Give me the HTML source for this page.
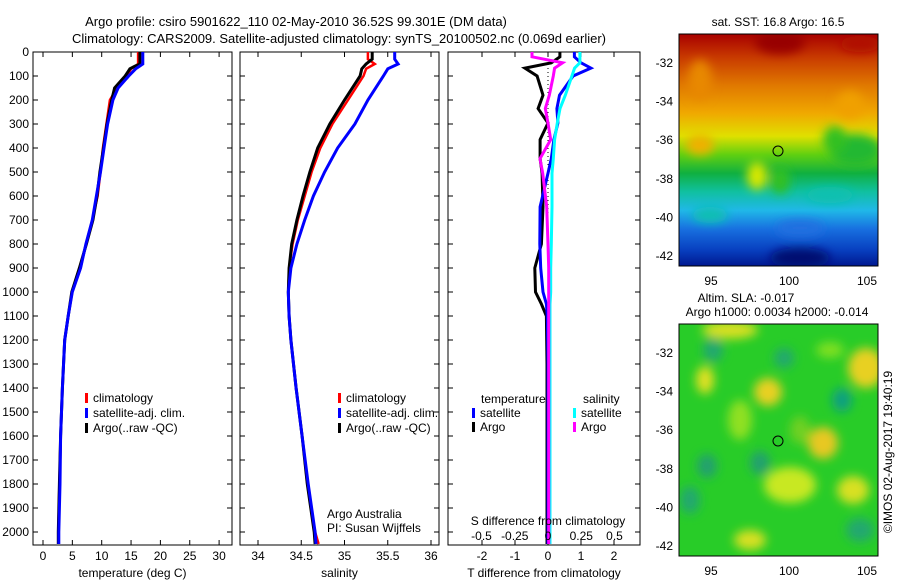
<!DOCTYPE html>
<html><head><meta charset="utf-8"><style>
body{margin:0;background:#fff;}
svg text{font-family:"Liberation Sans",sans-serif;fill:#000;}
</style></head><body>
<svg id="fig" width="900" height="580" xmlns="http://www.w3.org/2000/svg">
<defs>
<filter id="blur" x="-50%" y="-50%" width="200%" height="200%"><feGaussianBlur stdDeviation="5"/></filter>
<linearGradient id="sstGrad" x1="0" y1="0" x2="0" y2="1">
<stop offset="0" stop-color="#a80000"/><stop offset="0.1" stop-color="#c83a00"/>
<stop offset="0.22" stop-color="#e07800"/><stop offset="0.34" stop-color="#f0a800"/>
<stop offset="0.44" stop-color="#e0e000"/><stop offset="0.52" stop-color="#60d010"/>
<stop offset="0.6" stop-color="#10b040"/><stop offset="0.68" stop-color="#10c0a0"/>
<stop offset="0.76" stop-color="#20b8e8"/><stop offset="0.84" stop-color="#1870e0"/>
<stop offset="0.93" stop-color="#0840c0"/><stop offset="1" stop-color="#001890"/>
</linearGradient>
<clipPath id="clipA"><rect x="679" y="34" width="199" height="232"/></clipPath>
<clipPath id="clipB"><rect x="679" y="324" width="199" height="232"/></clipPath>
</defs>
<text x="296" y="26" font-size="13" text-anchor="middle">Argo profile: csiro 5901622_110 02-May-2010 36.52S 99.301E (DM data)</text>
<text x="339" y="43" font-size="13" text-anchor="middle">Climatology: CARS2009. Satellite-adjusted climatology: synTS_20100502.nc (0.069d earlier)</text>
<g id="plots"></g>

<g>
<g clip-path="url(#clipA)">
<rect x="679" y="34" width="199" height="232" fill="url(#sstGrad)"/>
<g filter="url(#blur)">
<ellipse cx="780" cy="42" rx="25" ry="12" fill="#980000"/>
<ellipse cx="860" cy="44" rx="20" ry="8" fill="#b01000"/>
<ellipse cx="700" cy="80" rx="12" ry="20" fill="#e88800"/>
<ellipse cx="850" cy="105" rx="14" ry="14" fill="#f0a000"/>
<ellipse cx="700" cy="145" rx="14" ry="10" fill="#f0b000"/>
<ellipse cx="855" cy="150" rx="26" ry="16" fill="#20b830"/>
<ellipse cx="835" cy="140" rx="12" ry="14" fill="#30c020"/>
<ellipse cx="757" cy="176" rx="10" ry="14" fill="#d8e800"/>
<ellipse cx="780" cy="180" rx="10" ry="14" fill="#30c020"/>
<ellipse cx="830" cy="195" rx="24" ry="8" fill="#10c0b0"/>
<ellipse cx="710" cy="215" rx="18" ry="8" fill="#10c0b0"/>
<ellipse cx="800" cy="228" rx="24" ry="8" fill="#2070e0"/>
<ellipse cx="800" cy="258" rx="30" ry="10" fill="#001070"/>
</g>
</g>
<rect x="679" y="34" width="199" height="232" fill="none" stroke="#000"/>
<circle cx="778" cy="151" r="5" fill="none" stroke="#000"/>
<text x="778" y="26" font-size="12" text-anchor="middle">sat. SST: 16.8 Argo: 16.5</text>
</g>
<g>
<g clip-path="url(#clipB)">
<rect x="679" y="324" width="199" height="232" fill="#28cc28"/>
<g filter="url(#blur)">
<ellipse cx="705" cy="380" rx="9" ry="14" fill="#e0e020"/>
<ellipse cx="768" cy="392" rx="14" ry="14" fill="#e8d020"/>
<ellipse cx="823" cy="443" rx="15" ry="16" fill="#e8c820"/>
<ellipse cx="866" cy="368" rx="18" ry="20" fill="#e8d020"/>
<ellipse cx="853" cy="490" rx="16" ry="14" fill="#d8e020"/>
<ellipse cx="790" cy="485" rx="26" ry="18" fill="#c8e820"/>
<ellipse cx="750" cy="540" rx="16" ry="10" fill="#d8e020"/>
<ellipse cx="740" cy="420" rx="12" ry="20" fill="#90e020"/>
<ellipse cx="730" cy="330" rx="28" ry="9" fill="#d8e020"/>
<ellipse cx="830" cy="350" rx="14" ry="8" fill="#80e020"/>
<ellipse cx="800" cy="430" rx="10" ry="14" fill="#70d020"/>
<ellipse cx="842" cy="400" rx="10" ry="12" fill="#10a080"/>
<ellipse cx="707" cy="466" rx="10" ry="12" fill="#20a070"/>
<ellipse cx="760" cy="463" rx="10" ry="12" fill="#20a070"/>
<ellipse cx="784" cy="358" rx="10" ry="10" fill="#20a870"/>
<ellipse cx="713" cy="350" rx="10" ry="12" fill="#20a870"/>
<ellipse cx="860" cy="530" rx="14" ry="12" fill="#20a870"/>
<ellipse cx="690" cy="500" rx="10" ry="14" fill="#20a870"/>
</g>
</g>
<rect x="679" y="324" width="199" height="232" fill="none" stroke="#000"/>
<circle cx="778" cy="441" r="5" fill="none" stroke="#000"/>
<text x="746" y="302" font-size="12" text-anchor="middle">Altim. SLA: -0.017</text>
<text x="777" y="316" font-size="12" text-anchor="middle">Argo h1000: 0.0034 h2000: -0.014</text>
</g>
<text font-size="12" text-anchor="middle" transform="translate(892,452) rotate(-90)">©IMOS 02-Aug-2017 19:40:19</text>
</svg>
<script>
// ---- data ----
const depthT = [0,50,60,70,100,150,200,300,400,500,600,700,800,900,1000,1100,1200,1400,1600,1800,2000,2050];
const tempClim = [16.2,16.2,15.6,15.0,14.3,12.6,11.4,10.8,10.2,9.8,9.3,8.4,7.3,6.4,5.0,4.3,3.7,3.3,3.0,2.8,2.6,2.6];
const tempSat  = [17.0,17.0,16.4,15.8,14.6,12.8,11.9,11.0,10.4,9.8,9.1,8.4,7.3,6.4,5.0,4.3,3.7,3.3,3.0,2.9,2.7,2.7];
const tempArgo = [16.5,16.5,15.6,14.8,14.0,12.2,11.7,10.9,10.3,9.7,9.2,8.5,7.4,6.2,4.9,4.3,3.7,3.3,3.0,2.8,2.6,2.6];
const depthS = [0,30,50,70,100,200,300,400,500,600,700,800,900,1000,1100,1200,1400,1600,1800,2000,2050];
const salClim = [35.27,35.27,35.35,35.25,35.22,35.04,34.86,34.72,34.62,34.54,34.46,34.40,34.36,34.35,34.36,34.38,34.44,34.51,34.57,34.66,34.70];
const salSat  = [35.58,35.58,35.62,35.50,35.45,35.27,35.12,34.92,34.77,34.64,34.54,34.45,34.38,34.35,34.36,34.38,34.44,34.51,34.58,34.66,34.67];
const salArgo = [35.32,35.32,35.25,35.20,35.18,35.00,34.83,34.69,34.60,34.52,34.45,34.39,34.36,34.35,34.36,34.38,34.44,34.51,34.57,34.65,34.66];
const depthD = [0,20,45,67,100,180,236,296,365,444,505,645,800,900,1000,1050,1100,1300,1600,2000,2050];
const dTSat  = [0.8,0.8,1.0,1.3,0.76,0.35,0.27,0.3,0.18,0.1,0.0,-0.24,-0.25,-0.22,-0.15,-0.05,-0.02,0,0,0,0];
const dTArgo = [0.36,0.36,0.1,-0.7,-0.33,-0.15,-0.3,0,-0.24,-0.24,-0.18,-0.15,-0.2,-0.4,-0.38,-0.2,-0.05,-0.03,-0.03,-0.03,-0.03];
const dSSat  = [0.24,0.24,0.24,0.2,0.18,0.13,0.09,0.07,0.05,0.04,0.03,0.03,0.025,0.02,0.02,0.015,0.015,0.015,0.015,0.015,0.015];
const dSArgo = [-0.12,-0.12,0.11,0.05,0.04,0.01,-0.02,0.0,0.02,-0.06,-0.04,-0.01,0.0,0.005,0.005,0.005,0.005,0.005,0.005,0.005,0.005];
const depthTicks = [0,100,200,300,400,500,600,700,800,900,1000,1100,1200,1300,1400,1500,1600,1700,1800,1900,2000];
const tempTicks = [0,5,10,15,20,25,30];
const salTicks = [34,34.5,35,35.5,36];
const dTTicks = [-2,-1,0,1,2];
const dSTicks = [-0.5,-0.25,0,0.25,0.5];
const dSTickLabels = ["-0.5","-0.25","0","0.25","0.5"];

// ---- axes ----
const top0 = 52, bot0 = 545;
const yD = d => top0 + d*0.24;
const xTemp = t => 43 + t*5.87;
const xSal = s => 258 + (s-34)*86.5;
const xDT = v => 548 + v*33;
const xDS = v => 548 + v*133;
const NS = "http://www.w3.org/2000/svg";
const G = document.getElementById('plots');
function mk(tag, attrs, parent){const e=document.createElementNS(NS,tag);for(const k in attrs)e.setAttribute(k,attrs[k]);(parent||G).appendChild(e);return e;}
function txt(s, attrs, parent){const e=mk('text',attrs,parent);e.textContent=s;return e;}

const panels = [
 {name:'temperature-panel', x0:33, x1:232, xf:xTemp, ticks:tempTicks, xlabel:'temperature (deg C)'},
 {name:'salinity-panel', x0:240, x1:439, xf:xSal, ticks:salTicks, xlabel:'salinity'},
 {name:'difference-panel', x0:448, x1:640, xf:xDT, ticks:dTTicks, xlabel:'T difference from climatology'}
];
panels.forEach((p,pi)=>{
  const g = mk('g',{});
  
  
  const fr = mk('rect',{x:p.x0,y:top0,width:p.x1-p.x0,height:bot0-top0,fill:'none',stroke:'#000'},g);
  
  
  depthTicks.forEach(d=>{
    mk('line',{x1:p.x0,x2:p.x0+5,y1:yD(d),y2:yD(d),stroke:'#000'},g);
    mk('line',{x1:p.x1,x2:p.x1-5,y1:yD(d),y2:yD(d),stroke:'#000'},g);
    if(pi===0){
      const t = txt(String(d),{x:29,y:yD(d)+4,'font-size':12,'text-anchor':'end'},g);
      
      
    }
  });
  p.ticks.forEach(v=>{
    const x = p.xf(v);
    mk('line',{x1:x,x2:x,y1:bot0,y2:bot0-5,stroke:'#000'},g);
    mk('line',{x1:x,x2:x,y1:top0,y2:top0+5,stroke:'#000'},g);
    const t = txt(String(v),{x:x,y:bot0+15,'font-size':12,'text-anchor':'middle'},g);
    
    
  });
  const xl = txt(p.xlabel,{x:(p.x0+p.x1)/2,y:577,'font-size':12,'text-anchor':'middle'},g);
  
  
});

function line(depths, vals, xf, color, name, w){
  const pts = depths.map((d,i)=>xf(vals[i]).toFixed(1)+','+yD(d).toFixed(1)).join(' ');
  const e = mk('polyline',{points:pts,fill:'none',stroke:color,'stroke-width':w||3,'stroke-linejoin':'miter'});
  
  
}
line(depthT,tempClim,xTemp,'#ff0000','temp-climatology-line',2.5);
line(depthT,tempArgo,xTemp,'#000000','temp-argo-line',3);
line(depthT,tempSat,xTemp,'#0000ff','temp-satellite-line',3);
line(depthS,salClim,xSal,'#ff0000','sal-climatology-line',2.5);
line(depthS,salArgo,xSal,'#000000','sal-argo-line',3);
line(depthS,salSat,xSal,'#0000ff','sal-satellite-line',3);
const zl = mk('line',{x1:xDT(0),x2:xDT(0),y1:top0,y2:bot0,stroke:'#000','stroke-dasharray':'1,3'});


line(depthD,dTArgo,xDT,'#000000','dT-argo-line',3);
line(depthD,dTSat,xDT,'#0000ff','dT-satellite-line',3);
line(depthD,dSSat,xDS,'#00ffff','dS-satellite-line',3);
line(depthD,dSArgo,xDS,'#ff00ff','dS-argo-line',3);

dSTicks.forEach((v,i)=>{
  const t = txt(dSTickLabels[i],{x:xDS(v),y:540,'font-size':12,'text-anchor':'middle'});
  
  
});
const st = txt('S difference from climatology',{x:548,y:525,'font-size':12,'text-anchor':'middle'});



function legEntry(x,y,color,label,name){
  const g = mk('g',{});
  
  
  mk('rect',{x:x,y:y-9,width:3,height:10,fill:color},g);
  txt(label,{x:x+8,y:y,'font-size':12},g);
}
[[85,'#ff0000','climatology'],[85,'#0000ff','satellite-adj. clim.'],[85,'#000000','Argo(..raw -QC)']].forEach((e,i)=>{
  legEntry(e[0],402+i*15,e[1],e[2],'legend-entry');
  legEntry(338,402+i*15,e[1],e[2],'legend-entry');
});
txt('temperature',{x:481,y:403,'font-size':12});
txt('salinity',{x:583,y:403,'font-size':12});
legEntry(472,417,'#0000ff','satellite','legend-entry');
legEntry(472,431,'#000000','Argo','legend-entry');
legEntry(573,417,'#00ffff','satellite','legend-entry');
legEntry(573,431,'#ff00ff','Argo','legend-entry');
const a1 = txt('Argo Australia',{x:327,y:518,'font-size':12});


const a2 = txt('PI: Susan Wijffels',{x:327,y:532,'font-size':12});



const lonTicks=[95,100,105], latTicks=[-32,-34,-36,-38,-40,-42];
const xLon = l => 711 + (l-95)*15.6;
[34,324].forEach((mt,mi)=>{
  const yLat = la => mt + 29 + (-32-la)*19.3;
  lonTicks.forEach(l=>{
    mk('line',{x1:xLon(l),x2:xLon(l),y1:mt+232,y2:mt+228,stroke:'#000'});
    mk('line',{x1:xLon(l),x2:xLon(l),y1:mt,y2:mt+4,stroke:'#000'});
    const t = txt(String(l),{x:xLon(l),y:mt+251,'font-size':12,'text-anchor':'middle'});
    
    
  });
  latTicks.forEach(la=>{
    mk('line',{x1:679,x2:683,y1:yLat(la),y2:yLat(la),stroke:'#000'});
    mk('line',{x1:878,x2:874,y1:yLat(la),y2:yLat(la),stroke:'#000'});
    const t = txt(String(la),{x:673,y:yLat(la)+4,'font-size':12,'text-anchor':'end'});
    
    
  });
});
</script>
</body></html>
